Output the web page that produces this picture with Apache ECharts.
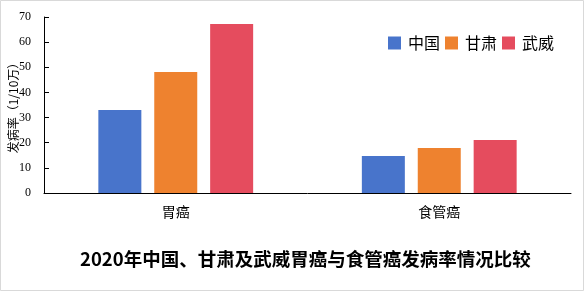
<!DOCTYPE html>
<html>
<head>
<meta charset="utf-8">
<script src="https://cdn.jsdelivr.net/npm/echarts@6/dist/echarts.min.js"></script>
<style>
  html, body { margin: 0; padding: 0; background: #fff; }
  #chart { width: 585px; height: 291px; }
</style>
</head>
<body>
<div id="chart"></div>
<script>
// Incidence per 100,000 — stomach and esophageal cancer, 2020
const categories = ['胃癌', '食管癌'];
const regions = ['中国', '甘肃', '武威'];
const chinaValues = [33.0, 14.7];
const gansuValues = [48.1, 17.9];
const wuweiValues = [67.2, 21.1];
const yTicks = [0, 10, 20, 30, 40, 50, 60, 70];

const colors = ['#4874CB', '#EE822F', '#E54C5E'];
const cjk = '"Noto Sans CJK SC", "Noto Sans", sans-serif';

const chart = echarts.init(document.getElementById('chart'), null, { renderer: 'canvas' });

const seriesValues = [chinaValues, gansuValues, wuweiValues];

chart.setOption({
  animation: false,
  backgroundColor: '#fff',
  color: colors,
  title: {
    text: '2020年中国、甘肃及武威胃癌与食管癌发病率情况比较',
    left: 75,
    top: 245,
    textStyle: { fontFamily: cjk, fontSize: 18.5, fontWeight: 'bold', color: '#000' }
  },
  legend: {
    data: regions,
    left: 383,
    top: 30,
    itemWidth: 13,
    itemHeight: 13,
    itemGap: 5,
    icon: 'rect',
    textStyle: { fontFamily: cjk, fontSize: 16, color: '#000', padding: [0, 0, 0, 2] }
  },
  grid: { left: 44, right: 14, top: 17, bottom: 98, containLabel: false, outerBoundsMode: 'none' },
  xAxis: {
    type: 'category',
    data: categories,
    axisLine: { lineStyle: { color: '#000', width: 1 } },
    axisTick: { show: false },
    axisLabel: { fontFamily: cjk, fontSize: 14, color: '#000', margin: 12 }
  },
  yAxis: {
    type: 'value',
    min: yTicks[0],
    max: yTicks[yTicks.length - 1],
    interval: 10,
    name: '发病率（1/10万）',
    nameLocation: 'middle',
    nameGap: 25,
    nameRotate: 90,
    nameMoveOverlap: false,
    nameTextStyle: { fontFamily: cjk, fontSize: 12, color: '#000' },
    axisLine: { show: true, lineStyle: { color: '#000', width: 1 } },
    axisTick: { show: true, inside: true, length: 5, lineStyle: { color: '#000' } },
    splitLine: { show: false },
    axisLabel: { fontFamily: '"Liberation Serif", serif', fontSize: 12, color: '#000', margin: 13 }
  },
  series: regions.map((name, i) => ({
    name,
    type: 'bar',
    data: seriesValues[i],
    barWidth: 43,
    barGap: '30%',
    itemStyle: { color: colors[i] }
  })),
  graphic: [{
    type: 'rect',
    shape: { x: 0.5, y: 0.5, width: 583, height: 290 },
    style: { fill: 'none', stroke: '#d9d9d9', lineWidth: 1 },
    silent: true
  }]
});
</script>
</body>
</html>
